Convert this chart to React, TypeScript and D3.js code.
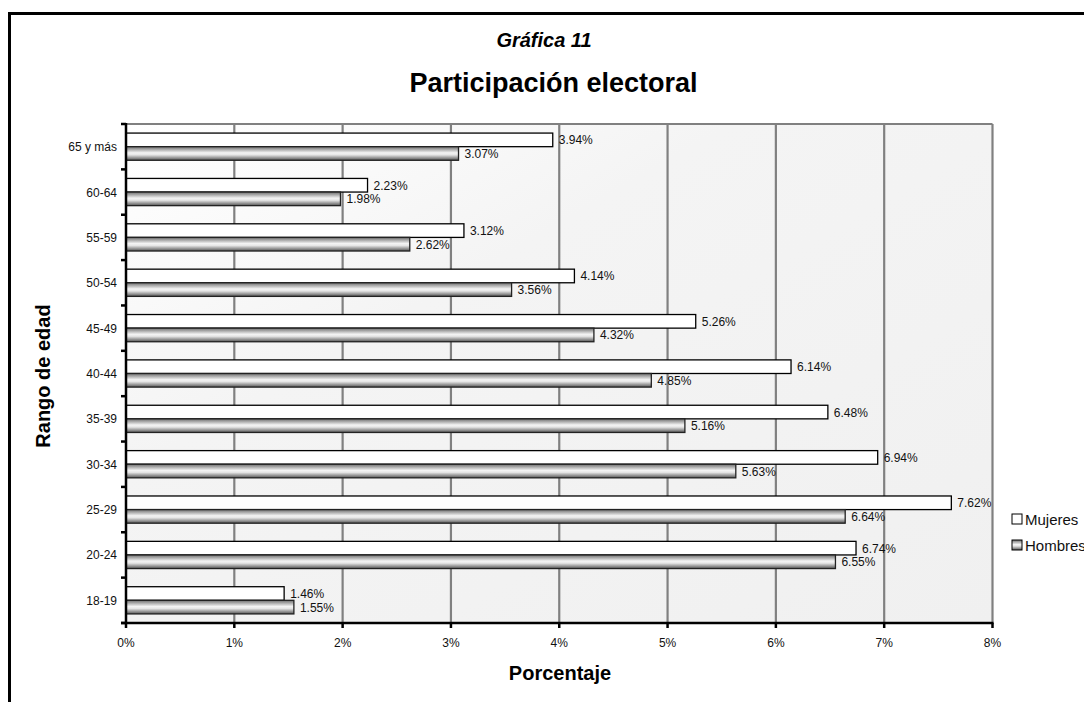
import React from "react";
import * as d3 from "d3";

const categories = ["18-19", "20-24", "25-29", "30-34", "35-39", "40-44", "45-49", "50-54", "55-59", "60-64", "65 y más"];
const mujeres = [1.46, 6.74, 7.62, 6.94, 6.48, 6.14, 5.26, 4.14, 3.12, 2.23, 3.94];
const hombres = [1.55, 6.55, 6.64, 5.63, 5.16, 4.85, 4.32, 3.56, 2.62, 1.98, 3.07];
const seriesNames = ["Mujeres", "Hombres"];
const xTicks = [0, 1, 2, 3, 4, 5, 6, 7, 8];

const FONT = "'Liberation Sans', Arial, sans-serif";

export default function App() {
  const W = 1084, H = 702;
  const left = 126, right = 992.5, top = 124, bottom = 623;
  const x = d3.scaleLinear().domain([0, 8]).range([left, right]);
  const y = d3.scaleBand<string>().domain([...categories].reverse()).range([top, bottom]).paddingInner(0.4).paddingOuter(0.2);
  const sub = d3.scaleBand<string>().domain(seriesNames).range([0, y.bandwidth()]);
  const step = y.step();
  const boundaries = d3.range(categories.length + 1).map((i) => top + i * step);
  const series = [mujeres, hombres];

  return (
    <svg width={W} height={H} style={{ position: "absolute", left: 0, top: 0, background: "#fff" }} fontFamily={FONT}>
      <defs>
        <linearGradient id="plotbg" x1="0" y1="0" x2="1" y2="1">
          <stop offset="0" stopColor="#ffffff" />
          <stop offset="0.35" stopColor="#f4f4f4" />
          <stop offset="1" stopColor="#f0f0f0" />
        </linearGradient>
        <linearGradient id="hgrad" x1="0" y1="0" x2="0" y2="1">
          <stop offset="0" stopColor="#6e6e6e" />
          <stop offset="0.45" stopColor="#f4f4f4" />
          <stop offset="0.6" stopColor="#e6e6e6" />
          <stop offset="1" stopColor="#555555" />
        </linearGradient>
      </defs>
      <rect x={0} y={0} width={W} height={H} fill="#fff" />
      <rect x={9.5} y={13.5} width={W + 20} height={H + 20} fill="#fff" stroke="#000" strokeWidth={3} />

      <text x={544} y={47} textAnchor="middle" fontSize={20} fontWeight="bold" fontStyle="italic">Gráfica 11</text>
      <text x={553.5} y={92} textAnchor="middle" fontSize={27} fontWeight="bold">Participación electoral</text>

      <rect x={left} y={top} width={right - left} height={bottom - top} fill="url(#plotbg)" />
      {xTicks.slice(1).map((t) => (
        <line key={"g" + t} x1={x(t)} x2={x(t)} y1={top} y2={bottom} stroke="#808080" strokeWidth={2.2} />
      ))}
      <line x1={left} x2={right} y1={top} y2={top} stroke="#808080" strokeWidth={2} />

      {categories.map((c, i) =>
        series.map((s, j) => {
          const by = (y(c) as number) + (sub(seriesNames[j]) as number);
          const bh = sub.bandwidth();
          const v = s[i];
          return (
            <g key={c + j}>
              <rect x={x(0)} y={by} width={x(v) - x(0)} height={bh}
                fill={j === 0 ? "#ffffff" : "url(#hgrad)"} stroke={j === 0 ? "#000" : "#222"} strokeWidth={1.3} />
              <text x={x(v) + 6} y={by + bh / 2 + 4.5} fontSize={12} fill="#111">{v.toFixed(2) + "%"}</text>
            </g>
          );
        })
      )}

      {/* axes */}
      <line x1={left} x2={left} y1={top - 1} y2={bottom + 1} stroke="#000" strokeWidth={2.5} />
      {boundaries.map((b, i) => (
        <line key={"yt" + i} x1={left - 5} x2={left} y1={b} y2={b} stroke="#000" strokeWidth={2.5} />
      ))}
      <line x1={left - 5} x2={right + 1} y1={bottom} y2={bottom} stroke="#000" strokeWidth={2.5} />
      {xTicks.map((t) => (
        <line key={"xt" + t} x1={x(t)} x2={x(t)} y1={bottom} y2={bottom + 5} stroke="#000" strokeWidth={2.5} />
      ))}
      {xTicks.map((t) => (
        <text key={"xl" + t} x={x(t)} y={647} textAnchor="middle" fontSize={12} fill="#111">{t + "%"}</text>
      ))}
      {categories.map((c) => (
        <text key={"yl" + c} x={117} y={(y(c) as number) + y.bandwidth() / 2 + 4.5} textAnchor="end" fontSize={12} fill="#111">{c}</text>
      ))}

      <text x={560} y={680} textAnchor="middle" fontSize={20} fontWeight="bold">Porcentaje</text>
      <text transform="translate(50,376) rotate(-90)" textAnchor="middle" fontSize={20} fontWeight="bold">Rango de edad</text>

      {/* legend */}
      {seriesNames.map((n, j) => (
        <g key={"lg" + n} transform={`translate(1012,${514 + j * 26})`}>
          <rect x={0} y={0} width={10} height={10} fill={j === 0 ? "#fff" : "url(#hgrad)"} stroke="#000" strokeWidth={1} />
          <text x={13} y={10.5} fontSize={15} fill="#111">{n}</text>
        </g>
      ))}
    </svg>
  );
}
